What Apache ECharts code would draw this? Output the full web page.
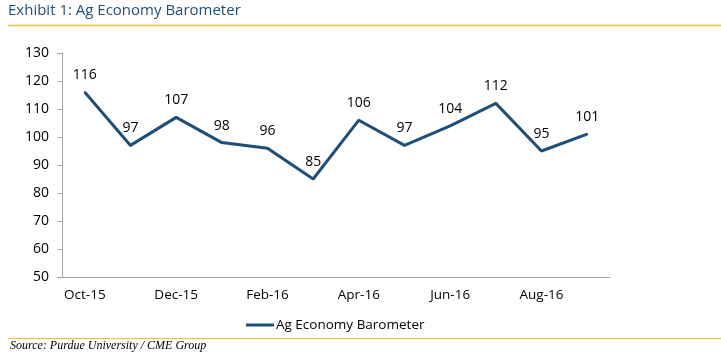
<!DOCTYPE html>
<html><head><meta charset="utf-8">
<script src="https://cdn.jsdelivr.net/npm/echarts@6/dist/echarts.min.js"></script>
<style>html,body{margin:0;padding:0;background:#fff}#c{width:721px;height:362px}</style>
</head><body><div id="c"></div>
<script>
const categories = ['Oct-15','Nov-15','Dec-15','Jan-16','Feb-16','Mar-16','Apr-16','May-16','Jun-16','Jul-16','Aug-16','Sep-16'];
const barometer = [116, 97, 107, 98, 96, 85, 106, 97, 104, 112, 95, 101];
const yTicks = {min: 50, max: 130, interval: 10};
const seriesName = 'Ag Economy Barometer';
const titleText = 'Exhibit 1: Ag Economy Barometer';
const sourceText = 'Source: Purdue University / CME Group';

const chart = echarts.init(document.getElementById('c'), null, {renderer: 'canvas'});
const font = '"Open Sans", "Noto Sans", sans-serif';
chart.setOption({
  animation: false,
  backgroundColor: '#fff',
  graphic: [
    {type: 'text', left: 8, top: 3, style: {text: titleText, fill: '#1F4E79', font: '15px ' + font}},
    {type: 'line', shape: {x1: 8, y1: 25.5, x2: 721, y2: 25.5}, style: {stroke: '#F5C236', lineWidth: 1.5}},
    {type: 'line', shape: {x1: 8, y1: 338.5, x2: 721, y2: 338.5}, style: {stroke: '#F5C236', lineWidth: 1}},
    {type: 'text', left: 10, top: 340, style: {text: sourceText, fill: '#000', font: 'italic 12px "Liberation Serif", serif'}}
  ],
  grid: {left: 62, right: 111, top: 53, bottom: 85},
  legend: {
    data: [{name: seriesName, icon: 'rect', itemStyle: {color: '#1F4E79', opacity: 1}}], left: 241, top: 313,
    itemWidth: 28, itemHeight: 3, itemGap: 4,
    textStyle: {fontFamily: font, fontSize: 13.5, color: '#000', padding: [0,0,0,-3]}
  },
  xAxis: {
    type: 'category', data: categories, boundaryGap: true,
    axisLine: {lineStyle: {color: '#A6A6A6'}},
    axisTick: {interval: 1, length: 5, lineStyle: {color: '#A6A6A6'}},
    axisLabel: {interval: 1, color: '#000', fontFamily: font, fontSize: 13.5, margin: 11}
  },
  yAxis: {
    type: 'value', min: yTicks.min, max: yTicks.max, interval: yTicks.interval,
    axisLine: {show: true, lineStyle: {color: '#A6A6A6'}},
    axisTick: {show: true, length: 5, lineStyle: {color: '#A6A6A6'}},
    splitLine: {show: false},
    axisLabel: {color: '#000', fontFamily: font, fontSize: 14, margin: 13}
  },
  series: [{
    name: seriesName, type: 'line', data: barometer,
    symbol: 'circle', symbolSize: 2, showSymbol: true,
    lineStyle: {color: '#1F4E79', width: 3}, itemStyle: {color: '#1F4E79'},
    labelLayout: {hideOverlap: false},
    label: {show: true, position: 'top', distance: 9, color: '#000', fontFamily: font, fontSize: 14}
  }]
});
</script></body></html>
